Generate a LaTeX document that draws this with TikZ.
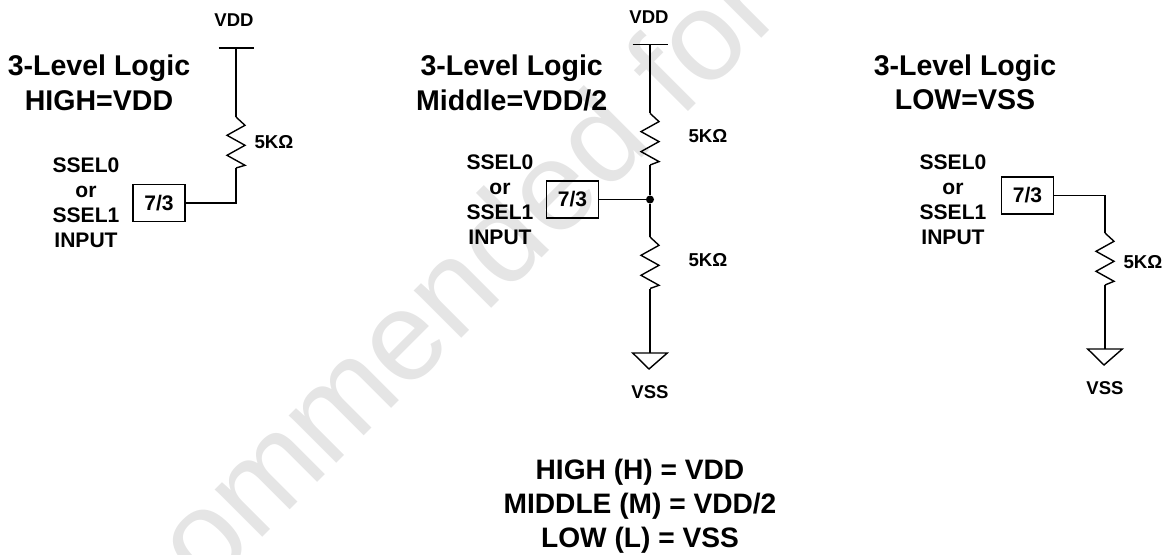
\documentclass[tikz,border=0pt]{standalone}
\usepackage{fontspec}
\setmainfont{Liberation Sans}
\usetikzlibrary{calc}
\tikzset{
  x=0.75pt,y=-0.75pt,
  wire/.style={line width=1.05pt,black,line join=miter},
  titlen/.style={font=\bfseries\fontsize{21.4}{25.9}\selectfont,align=center,inner sep=0},
  terml/.style={font=\bfseries\fontsize{13.9}{16}\selectfont,inner sep=0},
  resl/.style={font=\bfseries\fontsize{14}{16}\selectfont,inner sep=0},
  inlab/.style={font=\bfseries\fontsize{15.8}{18.8}\selectfont,align=center,inner sep=0},
  boxn/.style={draw,line width=1.05pt,minimum width=39pt,minimum height=27.5pt,inner sep=0,font=\bfseries\fontsize{15.8}{18}\selectfont},
  legendn/.style={font=\bfseries\fontsize{21.1}{25.6}\selectfont,align=center,inner sep=0},
  wmark/.style={font=\fontsize{95.25}{100}\selectfont,text=black!10,inner sep=0,anchor=base west},
  dotn/.style={circle,fill=black,inner sep=0,minimum size=6pt}
}
\newcommand{\resistor}[2]{\draw[wire] (#1) -- ++(9,8.3) -- ++(-18,10) -- ++(18,10) -- ++(-18,10) -- ++(18,10) -- (#2);}
\newcommand{\vddbar}[1]{\draw[wire] ($(#1)+(-17.5,0)$) -- ($(#1)+(17.5,0)$);}
\newcommand{\vssgnd}[1]{\draw[wire] ($(#1)+(-17.3,0)$) -- ($(#1)+(17.3,0)$) -- ($(#1)+(-1,16)$) -- cycle;}
\begin{document}
\begin{tikzpicture}
\useasboundingbox (0,0) rectangle (1168,554);
\begin{scope}
\clip (0,0) rectangle (1168,554);
\node[wmark,rotate=45] (wm) at (206,594) {ommended for};
\end{scope}

% left
\node[titlen] (t1) at (99,83) {3-Level Logic\\HIGH=VDD};
\node[terml] (v1) at (234,20) {VDD};
\coordinate (a1) at (236,48);
\vddbar{a1}
\coordinate (a1r) at (236,117);
\coordinate (a1b) at (236,168);
\draw[wire] (a1) -- (a1r);
\resistor{a1r}{a1b}
\node[resl] (r1) at (274,142) {5KΩ};
\node[boxn] (b1) at (159,203) {7/3};
\draw[wire] (b1.east) -| (a1b);
\node[inlab] (s1) at (86,203) {SSEL0\\or\\SSEL1\\INPUT};

% middle
\node[titlen] (t2) at (511.7,83) {3-Level Logic\\Middle=VDD/2};
\node[terml] (v2) at (649,17) {VDD};
\coordinate (a2) at (650,44.7);
\vddbar{a2}
\coordinate (a2r) at (650,113.3);
\coordinate (a2b) at (650,165);
\node[dotn] (d2) at (650,199.5) {};
\coordinate (a2s) at (650,237);
\coordinate (a2t) at (650,288.5);
\coordinate (g2) at (650,353);
\draw[wire] (a2) -- (a2r);
\resistor{a2r}{a2b}
\draw[wire] (a2b) -- (d2) -- (a2s);
\resistor{a2s}{a2t}
\draw[wire] (a2t) -- (g2);
\vssgnd{g2}
\node[resl] (r2) at (708,136) {5KΩ};
\node[resl] (r3) at (708,260) {5KΩ};
\node[boxn] (b2) at (572.5,199.5) {7/3};
\draw[wire] (b2.east) -- (d2);
\node[inlab] (s2) at (500,200) {SSEL0\\or\\SSEL1\\INPUT};
\node[terml] (w2) at (650,392) {VSS};

% right
\node[titlen] (t3) at (965,82.5) {3-Level Logic\\LOW=VSS};
\node[boxn] (b3) at (1027.5,195.5) {7/3};
\coordinate (a3r) at (1105,233);
\coordinate (a3b) at (1105,285);
\coordinate (g3) at (1105,349);
\draw[wire] (b3.east) -| (a3r);
\resistor{a3r}{a3b}
\draw[wire] (a3b) -- (g3);
\vssgnd{g3}
\node[resl] (r4) at (1143,262) {5KΩ};
\node[inlab] (s3) at (953,200) {SSEL0\\or\\SSEL1\\INPUT};
\node[terml] (w3) at (1105,388) {VSS};

% legend
\node[legendn] (lg) at (640,506) {HIGH (H) = VDD\\MIDDLE (M) = VDD/2\\LOW (L) = VSS};
\end{tikzpicture}
\end{document}
